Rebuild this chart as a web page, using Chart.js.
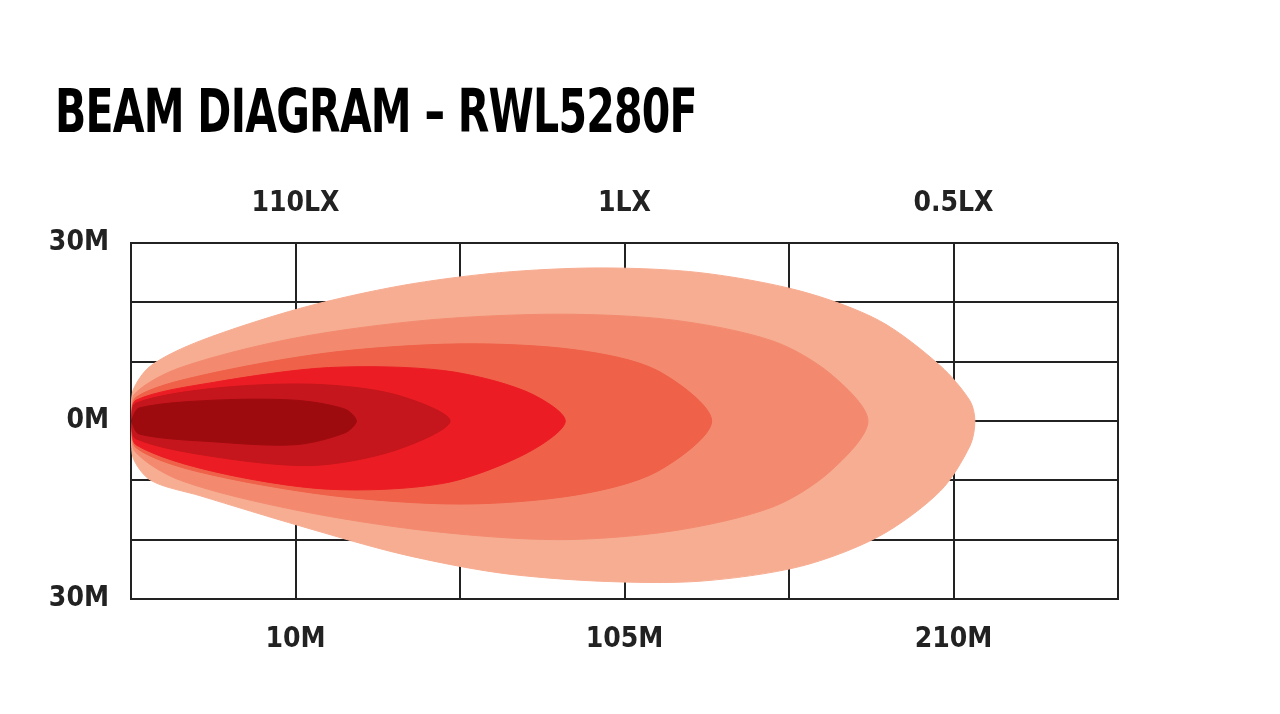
<!DOCTYPE html>
<html>
<head>
<meta charset="utf-8">
<script src="https://cdn.jsdelivr.net/npm/chart.js@4/dist/chart.umd.min.js"></script>
<style>
  body { margin: 0; background: #fff; }
  #wrap { position: relative; width: 1280px; height: 714px; }
  #title { position: absolute; left: 55px; top: 76px; font: bold 60px "Liberation Sans Narrow", "DejaVu Sans Condensed", sans-serif; letter-spacing: -1px; color: #000; transform: scaleX(0.76); transform-origin: left; white-space: nowrap; }
  canvas { position: absolute; left: 0; top: 0; }
</style>
</head>
<body>
<div id="wrap">
  <div id="title">BEAM DIAGRAM – RWL5280F</div>
  <canvas id="beam" width="1280" height="714"></canvas>
</div>
<script>
// distance labels (bottom), lux labels (top), width labels (left)
const distLabels = {1: '10M', 3: '105M', 5: '210M'};
const luxLabels = {1: '110LX', 3: '1LX', 5: '0.5LX'};
const widthLabels = {3: '30M', 0: '0M', '-3': '30M'};

// beam contours, outer to inner, [x, y] in grid units
const zone1 = [[0,0],[0.01,0.5],[0.12,0.93],[0.42,1.35],[1.03,1.9],[1.64,2.28],[2.24,2.5],[2.85,2.58],[3.46,2.5],[4.07,2.19],[4.55,1.69],[4.92,0.93],[5.1,0.34],[5.13,0],[5.1,-0.42],[4.92,-1.18],[4.55,-1.94],[4.07,-2.45],[3.46,-2.7],[2.85,-2.7],[2.24,-2.56],[1.64,-2.24],[1.03,-1.77],[0.42,-1.26],[0.12,-1.0],[0.01,-0.6],[0,0]];
const zone2 = [[0,0],[0.02,0.45],[0.3,0.9],[1.0,1.4],[1.8,1.7],[2.6,1.8],[3.3,1.7],[3.9,1.35],[4.25,0.8],[4.48,0],[4.25,-0.85],[3.9,-1.45],[3.3,-1.85],[2.6,-2.0],[1.8,-1.85],[1.0,-1.5],[0.3,-1.0],[0.02,-0.5],[0,0]];
const zone3 = [[0,0],[0.03,0.4],[0.4,0.75],[1.2,1.15],[2.0,1.3],[2.7,1.2],[3.2,0.85],[3.53,0],[3.2,-0.85],[2.7,-1.25],[2.0,-1.4],[1.2,-1.25],[0.4,-0.85],[0.03,-0.45],[0,0]];
const zone4 = [[0,0],[0.03,0.35],[0.5,0.65],[1.2,0.9],[1.9,0.85],[2.4,0.5],[2.64,0],[2.4,-0.55],[1.9,-1.05],[1.2,-1.15],[0.5,-0.85],[0.03,-0.4],[0,0]];
const zone5 = [[0,0],[0.03,0.3],[0.5,0.55],[1.1,0.62],[1.6,0.45],[1.94,0],[1.6,-0.5],[1.1,-0.75],[0.5,-0.6],[0.03,-0.3],[0,0]];
const zone6 = [[0,0],[0.05,0.22],[0.5,0.35],[1.0,0.35],[1.3,0.2],[1.37,0],[1.3,-0.2],[1.0,-0.4],[0.5,-0.35],[0.05,-0.22],[0,0]];

const zones = [zone1, zone2, zone3, zone4, zone5, zone6];
const zoneColors = ['#F7AD92', '#F38A6F', '#EF6148', '#EC1C24', '#C4161C', '#9E0B0F'];

const font = {family: '"Liberation Sans Narrow", "DejaVu Sans Condensed", sans-serif', size: 28, weight: 'bold'};
const allTicks = scale => { scale.ticks = [0,1,2,3,4,5,6].map(v => ({value: v})); };

new Chart(document.getElementById('beam'), {
    type: 'scatter',
    data: {
        datasets: zones.map((z, i) => ({
            data: z.map(p => ({x: p[0], y: p[1]})),
            showLine: true,
            fill: 'shape',
            order: zones.length - i,   // outer zone drawn first
            backgroundColor: zoneColors[i],
            borderColor: zoneColors[i],
            borderWidth: 1,
            pointRadius: 0,
            tension: 0.3,
        }))
    },
    options: {
        responsive: false,
        animation: false,
        layout: {padding: {left: 0, right: 162, top: 0, bottom: 55}},
        plugins: {legend: {display: false}, tooltip: {enabled: false}},
        scales: {
            x: {
                min: 0, max: 6, position: 'bottom',
                afterBuildTicks: allTicks,
                afterFit: s => { s.height = 60; },
                grid: {color: '#222', lineWidth: 2, drawTicks: false},
                border: {color: '#222', width: 2},
                ticks: {font, color: '#222', padding: 24, autoSkip: false, maxRotation: 0, callback: v => distLabels[v] || ''}
            },
            x2: {
                type: 'linear', min: 0, max: 6, position: 'top',
                afterBuildTicks: allTicks,
                afterFit: s => { s.height = 243; },
                grid: {display: false},
                border: {display: false},
                ticks: {font, color: '#222', padding: 14, autoSkip: false, maxRotation: 0, callback: v => luxLabels[v] || ''}
            },
            y: {
                min: -3, max: 3,
                afterBuildTicks: s => { s.ticks = [-3,-2,-1,0,1,2,3].map(v => ({value: v})); },
                afterFit: s => { s.width = 131; },
                grid: {color: '#222', lineWidth: 2, drawTicks: false},
                border: {color: '#222', width: 2},
                ticks: {font, color: '#222', padding: 22, autoSkip: false, callback: v => widthLabels[v] || ''}
            }
        }
    }
});
</script>
</body>
</html>
